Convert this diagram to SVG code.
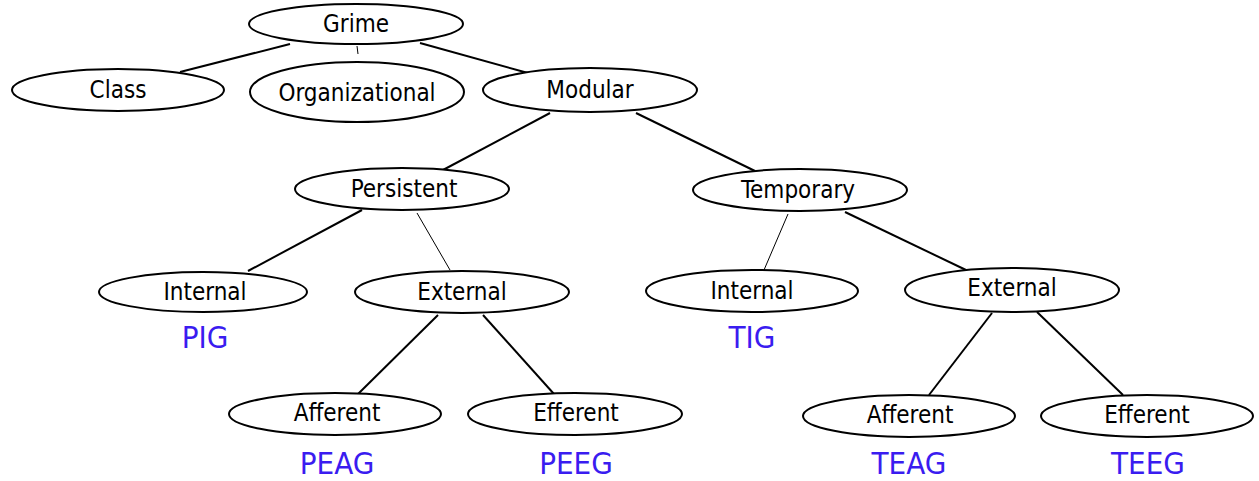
<svg xmlns="http://www.w3.org/2000/svg" width="1259" height="481" viewBox="0 0 1259 481">
<style>
.n{fill:#fff;stroke:#000;stroke-width:2}
.t{font-family:"DejaVu Sans Condensed","DejaVu Sans",sans-serif;font-stretch:condensed;font-size:24px;fill:#000;text-anchor:middle}
.l{font-family:"DejaVu Sans Condensed","DejaVu Sans",sans-serif;font-stretch:condensed;font-size:31px;fill:#3a1cf0;text-anchor:middle}
.c{stroke:#000;stroke-width:2;fill:none}
.c1{stroke:#000;stroke-width:1;fill:none}
</style>
<rect width="1259" height="481" fill="#fff"/>
<g id="connectors">
<line class="c" x1="290" y1="44" x2="180" y2="72"/>
<line class="c1" x1="357" y1="46" x2="358" y2="54"/>
<line class="c" x1="420" y1="43" x2="528" y2="73"/>
<line class="c" x1="550" y1="113" x2="443" y2="170"/>
<line class="c" x1="636" y1="113" x2="755" y2="171"/>
<line class="c" x1="362" y1="210" x2="248" y2="271"/>
<line class="c1" x1="417" y1="213" x2="450" y2="270"/>
<line class="c1" x1="788" y1="214" x2="764" y2="270"/>
<line class="c" x1="845" y1="212" x2="966" y2="270"/>
<line class="c" x1="438" y1="315" x2="358" y2="394"/>
<line class="c" x1="483" y1="315" x2="554" y2="394"/>
<line class="c" x1="992" y1="313" x2="929" y2="395"/>
<line class="c" x1="1037" y1="312" x2="1123" y2="395"/>
</g>
<g id="grime"><ellipse class="n" cx="356" cy="24" rx="107" ry="20"/><text class="t" x="356" y="32">Grime</text></g>
<g id="class"><ellipse class="n" cx="118" cy="90" rx="106" ry="21"/><text class="t" x="118" y="98">Class</text></g>
<g id="organizational"><ellipse class="n" cx="357" cy="92" rx="107" ry="30"/><text class="t" x="357" y="101">Organizational</text></g>
<g id="modular"><ellipse class="n" cx="590" cy="90" rx="107" ry="22"/><text class="t" x="590" y="98">Modular</text></g>
<g id="persistent"><ellipse class="n" cx="402" cy="189" rx="107" ry="21"/><text class="t" x="404" y="197">Persistent</text></g>
<g id="temporary"><ellipse class="n" cx="800" cy="190" rx="107" ry="21"/><text class="t" x="798" y="198">Temporary</text></g>
<g id="p-internal"><ellipse class="n" cx="203" cy="292" rx="104" ry="20"/><text class="t" x="205" y="300">Internal</text><text class="l" x="205" y="348">PIG</text></g>
<g id="p-external"><ellipse class="n" cx="462" cy="292" rx="107" ry="21"/><text class="t" x="462" y="300">External</text></g>
<g id="t-internal"><ellipse class="n" cx="752" cy="291" rx="106" ry="21"/><text class="t" x="752" y="299">Internal</text><text class="l" x="752" y="348">TIG</text></g>
<g id="t-external"><ellipse class="n" cx="1012" cy="290" rx="107" ry="22"/><text class="t" x="1012" y="296">External</text></g>
<g id="p-afferent"><ellipse class="n" cx="335" cy="414" rx="106" ry="21"/><text class="t" x="337" y="421">Afferent</text><text class="l" x="337" y="474">PEAG</text></g>
<g id="p-efferent"><ellipse class="n" cx="575" cy="414" rx="107" ry="21"/><text class="t" x="576" y="421">Efferent</text><text class="l" x="576" y="474">PEEG</text></g>
<g id="t-afferent"><ellipse class="n" cx="909" cy="416" rx="106" ry="21"/><text class="t" x="910" y="423">Afferent</text><text class="l" x="909" y="474">TEAG</text></g>
<g id="t-efferent"><ellipse class="n" cx="1147" cy="416" rx="106" ry="21"/><text class="t" x="1147" y="423">Efferent</text><text class="l" x="1148" y="474">TEEG</text></g>
</svg>
